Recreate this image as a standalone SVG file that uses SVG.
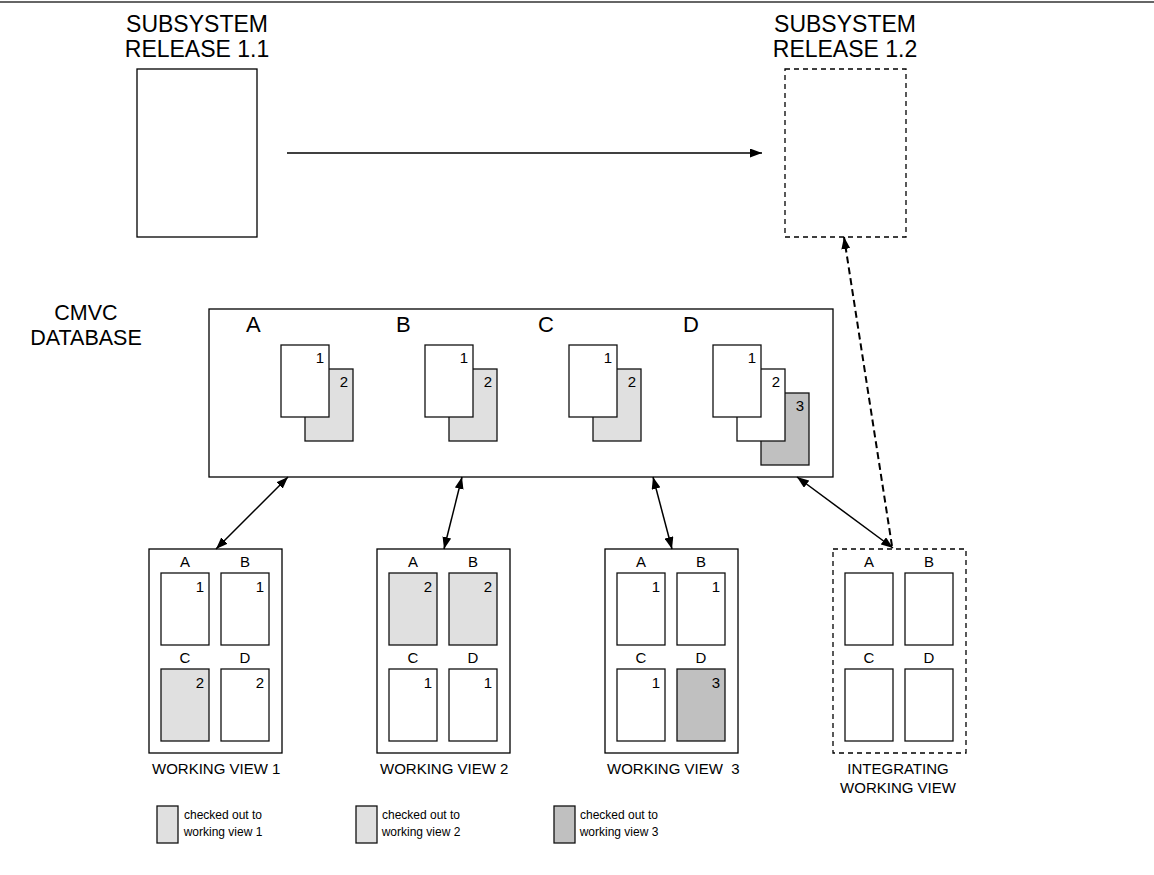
<svg xmlns="http://www.w3.org/2000/svg" width="1154" height="875" viewBox="0 0 1154 875">
<style>
text{font-family:"Liberation Sans",Arial,sans-serif;fill:#000}
.title{font-size:23px;text-anchor:middle}
.db{font-size:21.5px;text-anchor:middle}
.big{font-size:22px}
.lbl{font-size:15px;text-anchor:middle}
.num{font-size:15px;text-anchor:end}
.cap{font-size:15px;white-space:pre}
.leg{font-size:12px;text-anchor:middle}
.box{fill:#fff;stroke:#000;stroke-width:1.3}
.dbox{fill:#fff;stroke:#000;stroke-width:1.3;stroke-dasharray:5,4}
.doc{fill:#fff;stroke:#111;stroke-width:1.3}
.lt{fill:#e0e0e0}
.dk{fill:#c0c0c0}
.con{stroke:#000;stroke-width:1.5;fill:none}
.dcon{stroke:#000;stroke-width:2;fill:none;stroke-dasharray:7,4}
</style>
<defs>
<marker id="ah" viewBox="0 0 12 9" refX="12" refY="4.5" markerWidth="12" markerHeight="9" markerUnits="userSpaceOnUse" orient="auto-start-reverse"><path d="M0,0 L12,4.5 L0,9 z" fill="#000"/></marker>
</defs>
<line x1="0" y1="2" x2="1154" y2="2" stroke="#333" stroke-width="1.5"/>

<g id="release11">
<text class="title" x="197" y="32">SUBSYSTEM</text>
<text class="title" x="197" y="57">RELEASE 1.1</text>
<rect class="box" x="137" y="69" width="120" height="168"/>
</g>

<g id="release12">
<text class="title" x="845" y="32">SUBSYSTEM</text>
<text class="title" x="845" y="57">RELEASE 1.2</text>
<rect class="dbox" x="785" y="69" width="121" height="168"/>
</g>

<g id="cmvc">
<text class="db" x="86" y="319.5">CMVC</text>
<text class="db" x="86" y="344.5">DATABASE</text>
<rect class="box" x="209" y="309" width="624" height="168"/>
<text class="big" x="246" y="332">A</text>
<text class="big" x="396" y="332">B</text>
<text class="big" x="538" y="332">C</text>
<text class="big" x="683" y="332">D</text>
<rect class="doc lt" x="305" y="369" width="48" height="72"/><text class="num" x="348" y="387">2</text>
<rect class="doc" x="281" y="345" width="48" height="72"/><text class="num" x="324" y="363">1</text>
<rect class="doc lt" x="449" y="369" width="48" height="72"/><text class="num" x="492" y="387">2</text>
<rect class="doc" x="425" y="345" width="48" height="72"/><text class="num" x="468" y="363">1</text>
<rect class="doc lt" x="593" y="369" width="48" height="72"/><text class="num" x="636" y="387">2</text>
<rect class="doc" x="569" y="345" width="48" height="72"/><text class="num" x="612" y="363">1</text>
<rect class="doc dk" x="761" y="393" width="48" height="72"/><text class="num" x="804" y="411">3</text>
<rect class="doc" x="737" y="369" width="48" height="72"/><text class="num" x="780" y="387">2</text>
<rect class="doc" x="713" y="345" width="48" height="72"/><text class="num" x="756" y="363">1</text>
</g>

<g id="wv1">
<rect class="box" x="149" y="549" width="133" height="204"/>
<text class="lbl" x="185" y="567">A</text><text class="lbl" x="245" y="567">B</text>
<text class="lbl" x="185" y="663">C</text><text class="lbl" x="245" y="663">D</text>
<rect class="doc" x="161" y="573" width="48" height="72"/><text class="num" x="204" y="592">1</text>
<rect class="doc" x="221" y="573" width="48" height="72"/><text class="num" x="264" y="592">1</text>
<rect class="doc lt" x="161" y="669" width="48" height="72"/><text class="num" x="204" y="688">2</text>
<rect class="doc" x="221" y="669" width="48" height="72"/><text class="num" x="264" y="688">2</text>
<text class="cap" x="152" y="774">WORKING VIEW 1</text>
</g>

<g id="wv2">
<rect class="box" x="377" y="549" width="133" height="204"/>
<text class="lbl" x="413" y="567">A</text><text class="lbl" x="473" y="567">B</text>
<text class="lbl" x="413" y="663">C</text><text class="lbl" x="473" y="663">D</text>
<rect class="doc lt" x="389" y="573" width="48" height="72"/><text class="num" x="432" y="592">2</text>
<rect class="doc lt" x="449" y="573" width="48" height="72"/><text class="num" x="492" y="592">2</text>
<rect class="doc" x="389" y="669" width="48" height="72"/><text class="num" x="432" y="688">1</text>
<rect class="doc" x="449" y="669" width="48" height="72"/><text class="num" x="492" y="688">1</text>
<text class="cap" x="380" y="774">WORKING VIEW 2</text>
</g>

<g id="wv3">
<rect class="box" x="605" y="549" width="133" height="204"/>
<text class="lbl" x="641" y="567">A</text><text class="lbl" x="701" y="567">B</text>
<text class="lbl" x="641" y="663">C</text><text class="lbl" x="701" y="663">D</text>
<rect class="doc" x="617" y="573" width="48" height="72"/><text class="num" x="660" y="592">1</text>
<rect class="doc" x="677" y="573" width="48" height="72"/><text class="num" x="720" y="592">1</text>
<rect class="doc" x="617" y="669" width="48" height="72"/><text class="num" x="660" y="688">1</text>
<rect class="doc dk" x="677" y="669" width="48" height="72"/><text class="num" x="720" y="688">3</text>
<text class="cap" x="607" y="774">WORKING VIEW  3</text>
</g>

<g id="integrating">
<rect class="dbox" x="833" y="549" width="133" height="204"/>
<text class="lbl" x="869" y="567">A</text><text class="lbl" x="929" y="567">B</text>
<text class="lbl" x="869" y="663">C</text><text class="lbl" x="929" y="663">D</text>
<rect class="doc" x="845" y="573" width="48" height="72"/>
<rect class="doc" x="905" y="573" width="48" height="72"/>
<rect class="doc" x="845" y="669" width="48" height="72"/>
<rect class="doc" x="905" y="669" width="48" height="72"/>
<text class="lbl" x="898" y="774">INTEGRATING</text>
<text class="lbl" x="898" y="793">WORKING VIEW</text>
</g>

<g id="legend">
<rect class="doc lt" x="157" y="806" width="21" height="37"/>
<text class="leg" x="223" y="819">checked out to</text>
<text class="leg" x="223" y="836">working view 1</text>
<rect class="doc lt" x="356" y="806" width="21" height="37"/>
<text class="leg" x="421" y="819">checked out to</text>
<text class="leg" x="421" y="836">working view 2</text>
<rect class="doc dk" x="554" y="806" width="21" height="37"/>
<text class="leg" x="619" y="819">checked out to</text>
<text class="leg" x="619" y="836">working view 3</text>
</g>

<g id="connectors">
<line class="con" x1="287" y1="153" x2="762" y2="153" marker-end="url(#ah)"/>
<line class="con" x1="216" y1="549" x2="288" y2="477" marker-start="url(#ah)" marker-end="url(#ah)"/>
<line class="con" x1="444" y1="549" x2="462" y2="477" marker-start="url(#ah)" marker-end="url(#ah)"/>
<line class="con" x1="672" y1="549" x2="653" y2="477" marker-start="url(#ah)" marker-end="url(#ah)"/>
<line class="con" x1="893" y1="548" x2="797" y2="477" marker-start="url(#ah)" marker-end="url(#ah)"/>
<line class="dcon" x1="892" y1="546" x2="844" y2="237" marker-end="url(#ah)"/>
</g>
</svg>
